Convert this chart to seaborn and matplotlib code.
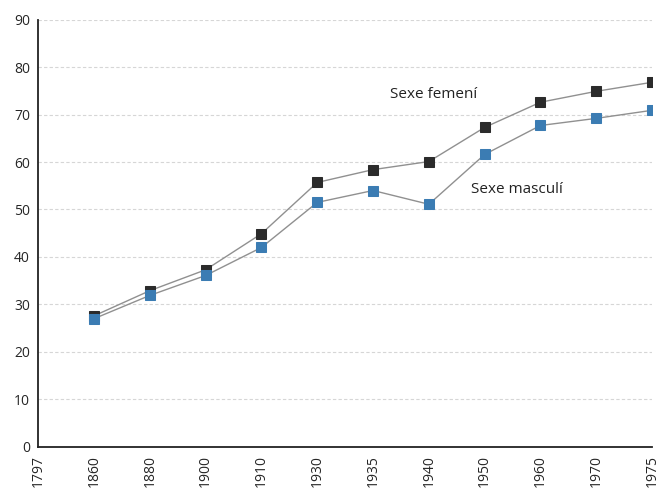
import seaborn as sns
import pandas as pd
import matplotlib.pyplot as plt

# Data
years = ['1797', '1860', '1880', '1900', '1910', '1930', '1935', '1940', '1950', '1960', '1970', '1975']
femeni = [None, 27.6, 32.9, 37.3, 44.9, 55.7, 58.4, 60.1, 67.3, 72.6, 74.9, 76.8]
masculi = [None, 27.0, 31.9, 36.1, 42.0, 51.5, 54.0, 51.1, 61.6, 67.7, 69.2, 70.9]

df = pd.DataFrame({'idx': range(len(years)), 'any': years,
                   'femeni': femeni, 'masculi': masculi}).astype({'femeni': float, 'masculi': float})

sns.set_style('white')
plt.rcParams['font.family'] = ['Open Sans', 'DejaVu Sans']

fig = plt.figure(figsize=(6.6, 4.91), dpi=100)
ax = fig.add_axes([0.058, 0.09, 0.93, 0.87])

sns.lineplot(data=df, x='idx', y='femeni', ax=ax, color='#909090', lw=1.0,
             marker='s', markersize=7, markerfacecolor='#2b2b2b', markeredgecolor='#2b2b2b')
sns.lineplot(data=df, x='idx', y='masculi', ax=ax, color='#909090', lw=1.0,
             marker='s', markersize=7, markerfacecolor='#3b7cb3', markeredgecolor='#3b7cb3')

ax.set_xlim(0, 11)
ax.set_ylim(0, 90)
ax.set_xticks(range(len(years)))
ax.set_xticklabels(years, rotation=90, fontsize=10)
ax.set_yticks(range(0, 91, 10))
ax.tick_params(axis='y', labelsize=10, length=4, direction='out', pad=2)
ax.tick_params(axis='x', length=3, direction='out', pad=3)
ax.set_xlabel('')
ax.set_ylabel('')

ax.grid(axis='y', color='#d6d6d6', linestyle=(0, (3, 2)), lw=0.8)
for s in ['top', 'right']:
    ax.spines[s].set_visible(False)
ax.spines['left'].set_color('#222222')
ax.spines['bottom'].set_color('#222222')
ax.spines['left'].set_linewidth(1.3)
ax.spines['bottom'].set_linewidth(1.3)

ax.text(6.3, 74.3, 'Sexe femení', fontsize=11, va='center', ha='left', color='#222222')
ax.text(7.76, 54.2, 'Sexe masculí', fontsize=11, va='center', ha='left', color='#222222')

fig.savefig('out.png', dpi=100)
